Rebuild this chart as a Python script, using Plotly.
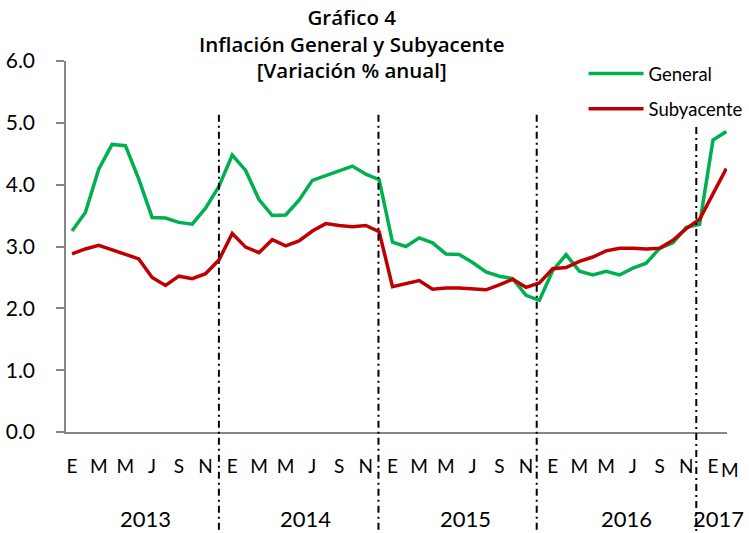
import plotly.graph_objects as go

# Months Jan 2013 .. Feb 2017
general = [3.25, 3.55, 4.25, 4.65, 4.63, 4.09, 3.47, 3.46, 3.39, 3.36, 3.62, 3.97,
           4.48, 4.23, 3.76, 3.50, 3.51, 3.75, 4.07, 4.15, 4.22, 4.30, 4.17, 4.08,
           3.07, 3.00, 3.14, 3.06, 2.88, 2.87, 2.74, 2.59, 2.52, 2.48, 2.21, 2.13,
           2.61, 2.87, 2.60, 2.54, 2.60, 2.54, 2.65, 2.73, 2.97, 3.06, 3.31, 3.36,
           4.72, 4.86]
subyacente = [2.88, 2.96, 3.02, 2.95, 2.88, 2.80, 2.50, 2.37, 2.52, 2.48, 2.56, 2.78,
              3.21, 2.99, 2.90, 3.11, 3.01, 3.09, 3.25, 3.37, 3.34, 3.32, 3.34, 3.24,
              2.35, 2.40, 2.45, 2.31, 2.33, 2.33, 2.31, 2.30, 2.38, 2.47, 2.34, 2.41,
              2.64, 2.66, 2.76, 2.83, 2.93, 2.97, 2.97, 2.96, 2.97, 3.10, 3.29, 3.44,
              3.85, 4.26]
month_initials = ["E", "F", "M", "A", "M", "J", "J", "A", "S", "O", "N", "D"]
years = ["2013", "2014", "2015", "2016", "2017"]
y_ticks = [0, 1, 2, 3, 4, 5, 6]
title_lines = ["Gráfico 4", "Inflación General y Subyacente", "[Variación % anual]"]

n = len(general)
x = list(range(n))

FONT = "Lato"
L, R, T, B = 66, 22, 61, 101
W, H = 749, 533
PW, PH = W - L - R, H - T - B


def px_to_paper(px, py):
    return (px - L) / PW, (H - B - py) / PH


fig = go.Figure()
fig.add_trace(go.Scatter(x=x, y=general, mode="lines", name="General",
                         line=dict(color="#00B050", width=3.5), legendgroup="g"))
fig.add_trace(go.Scatter(x=x, y=subyacente, mode="lines", name="Subyacente",
                         line=dict(color="#C00000", width=3.5), legendgroup="s"))

tickvals = [i for i in range(n) if i % 2 == 0]
ticktext = [month_initials[i % 12] for i in tickvals]

# year-end dividers (December of each year)
for xd, top in [(11, 0.855), (22.95, 0.855), (34.8, 0.855), (46.75, 0.822)]:
    fig.add_shape(type="line", xref="x", yref="paper", x0=xd, x1=xd, y0=top, y1=-0.275,
                  line=dict(color="black", width=2, dash="7px,4px,2px,4px"))

year_pos = [5.5, 17.5, 29.5, 41.5, 48.4]
for yr, xp in zip(years, year_pos):
    fig.add_annotation(x=xp, y=-0.232, xref="x", yref="paper", text=yr, showarrow=False,
                       font=dict(family=FONT, size=22, color="black"),
                       xanchor="center", yanchor="middle")
mx, my = px_to_paper(730, 469)
fig.add_annotation(x=mx, y=my, xref="paper", yref="paper", text="M", showarrow=False,
                   font=dict(family=FONT, size=19, color="black"),
                   xanchor="center", yanchor="middle")

tx, ty = px_to_paper(352, 44)
fig.add_annotation(x=tx, y=ty, xref="paper", yref="paper",
                   text="<br>".join(title_lines), showarrow=False,
                   xanchor="center", yanchor="middle", align="center",
                   font=dict(family="Open Sans", size=20.5, color="black", weight=600))

fig.update_layout(
    width=W, height=H,
    margin=dict(l=L, r=R, t=T, b=B, autoexpand=False),
    paper_bgcolor="white", plot_bgcolor="white",
    showlegend=True,
    legend=dict(x=0.783, y=1.016, xanchor="left", yanchor="top", xref="paper", yref="paper",
                bgcolor="rgba(0,0,0,0)", font=dict(family=FONT, size=18.5, color="black"),
                itemwidth=55, tracegroupgap=8),
    xaxis=dict(range=[-0.45, 49.05], tickmode="array", tickvals=tickvals, ticktext=ticktext,
               showgrid=False, zeroline=False, showline=True, linecolor="#868686", linewidth=1.5,
               ticks="", ticklabelstandoff=16, automargin=False,
               tickfont=dict(family=FONT, size=19, color="black")),
    yaxis=dict(range=[0, 6], tickmode="array", tickvals=y_ticks,
               ticktext=[f"{v:.1f}" for v in y_ticks],
               showgrid=False, zeroline=False, showline=True, linecolor="#868686", linewidth=1.5,
               ticks="outside", ticklen=8, tickcolor="#868686", tickwidth=1.5,
               ticklabelstandoff=17, automargin=False,
               tickfont=dict(family=FONT, size=21, color="black")),
)

fig.write_html("out.html", config={"displayModeBar": False},
               post_script="document.body.style.margin='0';document.body.style.overflow='hidden';")
